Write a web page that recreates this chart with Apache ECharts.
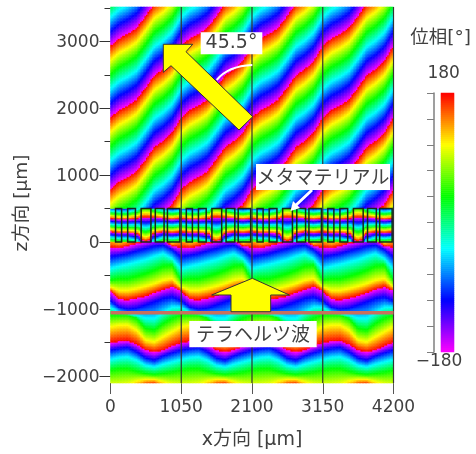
<!DOCTYPE html>
<html><head><meta charset="utf-8">
<style>html,body{margin:0;padding:0;background:#fff}#c{width:476px;height:454px}</style>
<script src="https://cdn.jsdelivr.net/npm/echarts@6/dist/echarts.min.js"></script>
</head><body><div id="c"></div>
<script>
var PERIOD = 1050, X_MAX = 4200, Z_MIN = -2108, Z_MAX = 3513;
var zMajor = [-2000,-1000,0,1000,2000,3000];
var zMinor = [-1500,-500,500,1500,2500,3500];
var dividers = [1050,2100,3150,4200];
var sourceLineZ = -1057;
var META_TOP = 500;
var metaLeft = [75,255,455,665,845];
var metaRight = [165,370,600,795,1030];

// Isophase curves, one period wide (z in um at each fraction of a period)
var fr = [0,.125,.25,.375,.5,.625,.75,.875,1];
var topPhase = [-180,180,540,900,1260];
var top0 = [-283,-168,-98,-8,167,352,442,567,787];
var top1 = [788,903,973,1063,1238,1423,1513,1638,1858];
var top2 = [1859,1974,2044,2134,2309,2494,2584,2709,2929];
var top3 = [2930,3045,3115,3205,3380,3565,3655,3780,4000];
var top4 = [4001,4116,4186,4276,4451,4636,4726,4851,5071];

var metaFr = [0,.125,.25,.4,.44,.5,.57,.6,.75,.875,1];
var metaPhase = [180,-180];
var meta0 = [154,139,139,120,40,5,40,120,154,139,154];
var meta1 = [353,338,338,353,368,368,368,368,353,338,353];

var lowPhase = [108,36,-36,-108,-180,-252,-324,-396,-468,-540,-612,-684,-756,-828,-900];
var low0 = [-2145,-2145,-2125,-2075,-2050,-2050,-2085,-2125,-2145];
var low1 = [-1915,-1895,-1895,-1935,-1965,-1980,-1965,-1945,-1915];
var low2 = [-1755,-1725,-1715,-1765,-1840,-1865,-1825,-1790,-1755];
var low3 = [-1615,-1590,-1575,-1640,-1730,-1765,-1700,-1655,-1615];
var low4 = [-1505,-1485,-1475,-1530,-1615,-1645,-1615,-1555,-1505];
var low5 = [-1265,-1240,-1240,-1315,-1465,-1490,-1415,-1340,-1265];
var low6 = [-1090,-1090,-1090,-1140,-1290,-1315,-1215,-1140,-1090];
var low7 = [-975,-1045,-1075,-1090,-1135,-1140,-1055,-975,-975];
var low8 = [-875,-975,-1005,-990,-940,-890,-840,-820,-875];
var low9 = [-730,-855,-865,-840,-810,-760,-710,-670,-730];
var low10 = [-670,-720,-720,-695,-660,-620,-570,-545,-670];
var low11 = [-570,-545,-545,-510,-470,-420,-360,-345,-570];
var low12 = [-395,-360,-330,-295,-260,-210,-170,-245,-395];
var low13 = [-220,-195,-170,-130,-95,-60,-45,-110,-220];
var low14 = [-80,-90,-60,-20,5,30,30,-60,-80];

var layers = {
  top: {f: fr, phase: topPhase, lines: [top0,top1,top2,top3,top4]},
  meta: {f: metaFr, phase: metaPhase, lines: [meta0,meta1]},
  low: {f: fr, phase: lowPhase, lines: [low0,low1,low2,low3,low4,low5,low6,low7,low8,low9,low10,low11,low12,low13,low14]}
};

function sample(xs, ys, f){
  for (var i=1;i<xs.length;i++) if (f<=xs[i]) {
    return ys[i-1]+(ys[i]-ys[i-1])*(f-xs[i-1])/(xs[i]-xs[i-1]);
  }
  return ys[ys.length-1];
}
function phaseAt(x,z){
  var f = (x % PERIOD)/PERIOD;
  var L = z>=META_TOP ? layers.top : (z>=0 ? layers.meta : layers.low);
  var n = L.lines.length, i = 0, zs = [];
  for (var k=0;k<n;k++) zs.push(sample(L.f,L.lines[k],f));
  while (i<n-2 && z>zs[i+1]) i++;
  var p = L.phase[i]+(L.phase[i+1]-L.phase[i])*(z-zs[i])/Math.max(zs[i+1]-zs[i],1);
  return ((p+180)%360+360)%360-180;
}

var NX = 190, NZ = 250, xCells=[], zCells=[], cells=[];
for (var i=0;i<NX;i++) xCells.push(i);
for (var j=0;j<NZ;j++) zCells.push(j);
for (i=0;i<NX;i++) for (j=0;j<NZ;j++) {
  var xv=(i+.5)*X_MAX/NX, zv=Z_MIN+(j+.5)*(Z_MAX-Z_MIN)/NZ;
  cells.push([i,j,phaseAt(xv,zv)]);
}
var NB = 130, barRows=[], barCells=[];
for (j=0;j<NB;j++){ barRows.push(j); barCells.push([0,j,-180+(j+.5)*360/NB]); }

var rects=[];
for (var p=0;p<4;p++) for (var r=0;r<metaLeft.length;r++)
  rects.push([metaLeft[r]+p*PERIOD, metaRight[r]+p*PERIOD]);

var F = '"DejaVu Sans","Noto Sans CJK JP",sans-serif', J='"Noto Sans CJK JP","DejaVu Sans",sans-serif', TC='#404040';
var fmt = function(v){return String(v).replace('-','\u2212');};
function label(cx,cy,text,size,box,font){
  var out=[];
  if (box) out.push({type:'rect',z:20,shape:{x:box[0],y:box[1],width:box[2],height:box[3]},style:{fill:'#fff'}});
  out.push({type:'text',z:21,x:cx,y:cy,style:{text:text,font:size+'px '+(font||F),fill:TC,align:'center',verticalAlign:'middle'}});
  return out;
}
var gfx = [].concat(
  [{type:'polygon',z:15,shape:{points:[[163.3,44.3],[192.7,44.3],[186,51.7],[252.7,116.7],[239,130],[171,65.7],[163.3,72.3]]},style:{fill:'#ffff00',stroke:'#333',lineWidth:1}},
   {type:'polygon',z:15,shape:{points:[[252.3,278.3],[211.7,295],[231,295],[231,311.7],[270.7,311.7],[270.7,295],[289.3,295]]},style:{fill:'#ffff00',stroke:'#333',lineWidth:1}},
   {type:'bezierCurve',z:15,shape:{x1:216.7,y1:80,x2:252.3,y2:65,cpx1:228,cpy1:66},style:{stroke:'#fff',lineWidth:2,fill:'none'}},
   {type:'line',z:15,shape:{x1:312,y1:190,x2:294,y2:207},style:{stroke:'#fff',lineWidth:3}},
   {type:'polygon',z:15,shape:{points:[[290.5,211],[293,201],[300,208]]},style:{fill:'#fff'}}],
  label(231.5,43,'45.5\u00b0',19,[200.7,32.3,61.6,22]),
  label(323,177,'\u30e1\u30bf\u30de\u30c6\u30ea\u30a2\u30eb',19,[256,164,134,26],J),
  label(253,334,'\u30c6\u30e9\u30d8\u30eb\u30c4\u6ce2',19,[189.3,321,127.4,26.3],J),
  label(440.5,38,'\u4f4d\u76f8[\u00b0]',18.5),
  label(443.7,74,'180',17),
  label(439,362,'\u2212180',17),
  label(252,440,'x\u65b9\u5411 [\u03bcm]',19),
  [{type:'text',z:21,x:22,y:203,rotation:Math.PI/2,style:{text:'z\u65b9\u5411 [\u03bcm]',font:'18.5px '+F,fill:TC,align:'center',verticalAlign:'middle'}}]
);

var chart = echarts.init(document.getElementById('c'),null,{renderer:'canvas'});
chart.setOption({
  animation:false,
  backgroundColor:'#fff',
  grid:[{left:110.5,top:7,width:283,height:376,outerBoundsMode:'none'},{left:441,top:93,width:13,height:259,outerBoundsMode:'none'}],
  xAxis:[
    {type:'category',gridIndex:0,data:xCells,show:false,boundaryGap:true},
    {type:'value',gridIndex:0,min:0,max:X_MAX,interval:PERIOD,position:'bottom',
      axisLine:{show:false,onZero:false},splitLine:{show:false},
      axisTick:{show:true,length:11,lineStyle:{color:'#555',width:1}},
      axisLabel:{margin:16,fontSize:17,fontFamily:F,color:TC,formatter:function(v){return String(v);},showMinLabel:true,showMaxLabel:true}},
    {type:'category',gridIndex:1,data:[0],show:false,boundaryGap:true}
  ],
  yAxis:[
    {type:'category',gridIndex:0,data:zCells,show:false,boundaryGap:true},
    {type:'value',gridIndex:0,min:Z_MIN,max:Z_MAX,position:'left',
      axisLine:{show:false,onZero:false},splitLine:{show:false},
      axisTick:{show:true,length:11,customValues:zMajor,lineStyle:{color:'#333',width:1}},
      axisLabel:{margin:11,fontSize:17,fontFamily:F,color:TC,customValues:zMajor,formatter:fmt,verticalAlign:'top',lineHeight:3}},
    {type:'value',gridIndex:0,min:Z_MIN,max:Z_MAX,position:'left',
      axisLine:{show:false,onZero:false},splitLine:{show:false},
      axisTick:{show:true,length:6,customValues:zMinor,lineStyle:{color:'#333',width:1}},
      axisLabel:{show:false}},
    {type:'category',gridIndex:1,data:barRows,show:false,boundaryGap:true},
    {type:'value',gridIndex:1,min:-180,max:180,interval:36,position:'left',offset:7,
      axisLine:{show:true,onZero:false,lineStyle:{color:'#7f7f7f',width:1.5}},splitLine:{show:false},
      axisTick:{show:true,length:7,lineStyle:{color:'#7f7f7f',width:1}},axisLabel:{show:false}}
  ],
  visualMap:{type:'continuous',show:false,seriesIndex:[0,1],dimension:2,min:-180,max:180,
    inRange:{color:['#ff00ff','#0000ff','#00ffff','#00ff00','#ffff00','#ff0000']}},
  series:[
    {type:'heatmap',xAxisIndex:0,yAxisIndex:0,data:cells,progressive:0,silent:true,z:1,emphasis:{disabled:true}},
    {type:'heatmap',xAxisIndex:2,yAxisIndex:3,data:barCells,progressive:0,silent:true,z:1,emphasis:{disabled:true}},
    {type:'custom',xAxisIndex:1,yAxisIndex:1,data:rects,z:5,silent:true,clip:false,
      renderItem:function(p,api){
        var a=api.coord([api.value(0),META_TOP]),b=api.coord([api.value(1),0]);
        return {type:'rect',shape:{x:a[0],y:a[1],width:b[0]-a[0],height:b[1]-a[1]},style:{fill:'none',stroke:'#16281a',lineWidth:1.5}};
      }},
    {type:'custom',xAxisIndex:1,yAxisIndex:1,data:dividers.map(function(d){return [d];}),z:6,silent:true,clip:false,
      renderItem:function(p,api){
        var a=api.coord([api.value(0),Z_MAX]),b=api.coord([api.value(0),Z_MIN]);
        return {type:'line',shape:{x1:a[0],y1:a[1],x2:b[0],y2:b[1]},style:{stroke:'#333',lineWidth:1.2}};
      }},
    {type:'line',xAxisIndex:1,yAxisIndex:1,data:[[0,sourceLineZ],[X_MAX,sourceLineZ]],symbol:'none',silent:true,z:7,clip:false,
      lineStyle:{color:'#c8705f',width:3.5}}
  ],
  graphic:{elements:gfx}
});
</script></body></html>
